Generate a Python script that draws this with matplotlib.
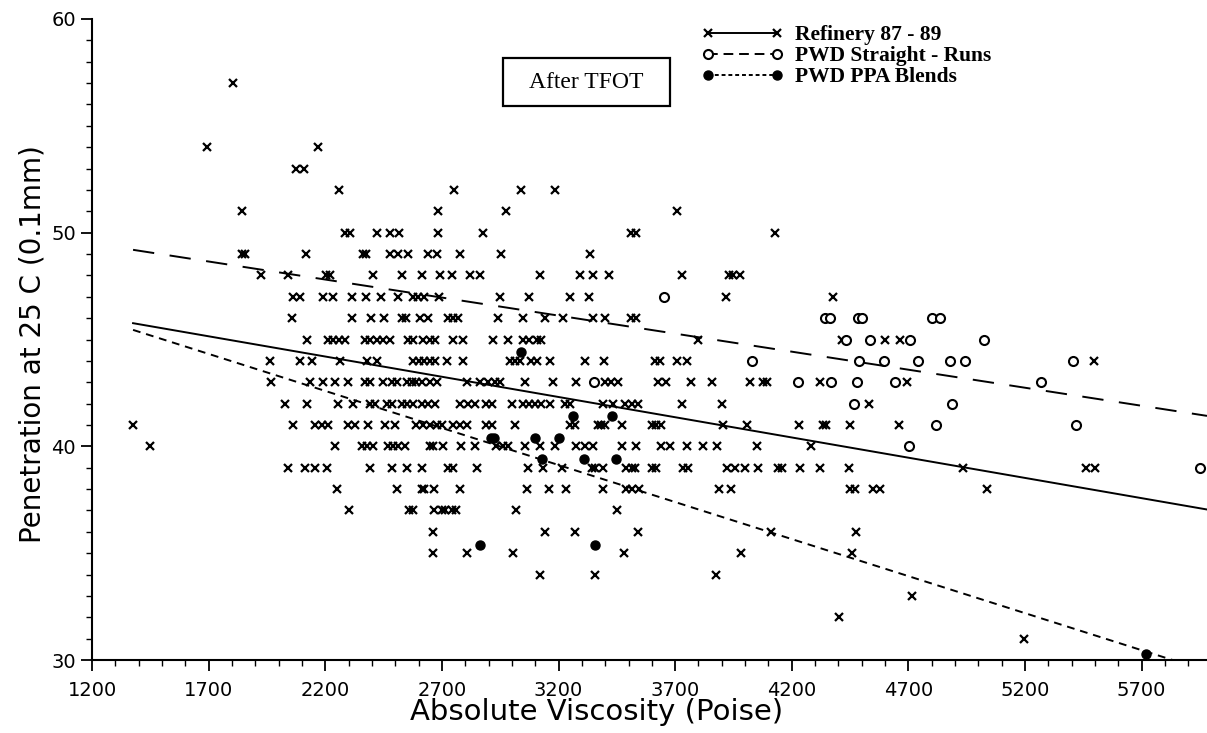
import numpy as np
import matplotlib.pyplot as plt
from matplotlib.lines import Line2D
from matplotlib.patches import Rectangle
from matplotlib.ticker import FixedLocator

# Refinery 87-89 samples: one viscosity list per penetration value
refinery_pen = [57, 54, 53, 52, 51, 50, 49, 48, 47, 46, 45, 44, 43, 42, 41, 40, 39, 38, 37, 36, 35, 34, 33, 32, 31]
refinery_visc = [
    [1805],
    [1694, 2170],
    [2074, 2110],
    [2257, 2751, 3041, 3187],
    [1844, 2684, 2974, 3709],
    [2284, 2306, 2420, 2477, 2516, 2684, 2877, 3510, 3530, 4130],
    [1845, 1855, 2116, 2360, 2374, 2477, 2513, 2553, 2641, 2677, 2777, 2953, 3334],
    [1924, 2041, 2205, 2220, 2403, 2531, 2615, 2691, 2742, 2820, 2863, 3120, 3291, 3348, 3417, 3730,
     3930, 3950, 3977],
    [2063, 2091, 2191, 2234, 2313, 2374, 2441, 2513, 2577, 2599, 2623, 2687, 2949, 3074, 3249, 3331,
     3916, 4377],
    [2056, 2313, 2394, 2451, 2527, 2548, 2606, 2641, 2727, 2749, 2770, 2941, 3049, 3141, 3220, 3348,
     3399, 3510, 3530],
    [2120, 2210, 2235, 2260, 2285, 2370, 2391, 2420, 2449, 2477, 2556, 2577, 2620, 2649, 2670, 2749,
     2789, 2920, 2982, 3049, 3074, 3106, 3127, 3796, 4417, 4599, 4663],
    [1963, 2091, 2141, 2263, 2377, 2420, 2577, 2600, 2625, 2650, 2670, 2720, 2789, 2991, 3013, 3034,
     3084, 3106, 3163, 3313, 3394, 3613, 3633, 3710, 3749, 5496],
    [1967, 2134, 2191, 2241, 2299, 2370, 2391, 2449, 2484, 2506, 2549, 2570, 2591, 2613, 2649, 2677,
     2806, 2863, 2899, 2927, 2949, 3056, 3177, 3274, 3399, 3427, 3456, 3627, 3660, 3766, 3856, 4020,
     4075, 4095, 4323, 4694],
    [2028, 2120, 2256, 2320, 2391, 2413, 2463, 2484, 2527, 2549, 2577, 2613, 2641, 2670, 2777, 2813,
     2841, 2891, 2913, 2999, 3049, 3074, 3099, 3127, 3163, 3227, 3249, 3391, 3434, 3484, 3513, 3541,
     3731, 3899, 4531],
    [1374, 2063, 2156, 2184, 2213, 2299, 2327, 2384, 2456, 2499, 2591, 2620, 2649, 2677, 2700, 2749,
     2777, 2806, 2891, 2913, 3013, 3249, 3270, 3369, 3380, 3400, 3470, 3599, 3620, 3641, 3906, 4009,
     4231, 4334, 4345, 4451, 4659],
    [1450, 2241, 2356, 2380, 2406, 2470, 2491, 2513, 2541, 2650, 2662, 2706, 2784, 2841, 2934, 2963,
     2984, 3056, 3120, 3184, 3277, 3313, 3348, 3470, 3531, 3639, 3680, 3751, 3820, 3881, 4049, 4284],
    [2041, 2113, 2156, 2206, 2391, 2484, 2549, 2613, 2727, 2749, 2849, 3070, 3134, 3217, 3345, 3355,
     3391, 3491, 3513, 3527, 3599, 3620, 3734, 3756, 3923, 3956, 3999, 4056, 4141, 4160, 4236, 4323,
     4444, 4934, 5460, 5500],
    [2251, 2506, 2615, 2625, 2666, 2777, 3065, 3160, 3234, 3391, 3491, 3513, 3546, 3887, 3941, 4449,
     4470, 4549, 4577, 5039],
    [2301, 2560, 2575, 2666, 2700, 2712, 2745, 2760, 3016, 3449],
    [2660, 3141, 3270, 3539, 4109, 4477],
    [2660, 2809, 3006, 3480, 3981, 4459],
    [3120, 3356, 3877],
    [4716],
    [4403],
    [5194],
]

# PWD straight-run binders
straight_visc = [3351, 3651, 4030, 4228, 4341, 4363, 4484, 4499, 4799, 4834, 4431, 4537, 4706, 5024,
                 4489, 4596, 4741, 4877, 4941, 4370, 4480, 4644, 4466, 4887, 4820, 4701,
                 5406, 5267, 5420, 5950]
straight_pen = [43, 47, 44, 43, 46, 46, 46, 46, 46, 46, 45, 45, 45, 45,
                44, 44, 44, 44, 44, 43, 43, 43, 42, 42, 41, 40,
                44, 43, 41, 39]

# PWD PPA blends
ppa_visc = [3041, 3260, 3431, 2910, 2925, 3099, 3203, 3130, 3309, 3446, 2863, 3356, 5720]
ppa_pen = [44.4, 41.4, 41.4, 40.4, 40.4, 40.4, 40.4, 39.4, 39.4, 39.4, 35.4, 35.4, 30.3]

# linear fits: penetration = intercept + slope * viscosity
fit_start = 1376
refinery_fit = (48.37, -0.001894)
straight_fit = (51.52, -0.001688)
ppa_fit = (50.22, -0.003467)

ref_x = np.concatenate([np.array(v, float) for v in refinery_visc])
ref_y = np.concatenate([np.full(len(v), p, float) for p, v in zip(refinery_pen, refinery_visc)])

W, H = 1207, 733
fig = plt.figure(figsize=(W / 100, H / 100), dpi=100)
ax = fig.add_axes([92 / W, 73 / H, 1115 / W, 641 / H])

xmax = 5980
ax.set_xlim(1200, xmax)
ax.set_ylim(30, 60)

mk = dict(color='black', linestyle='none')
ax.plot(ref_x, ref_y, marker='x', markersize=5.5, markeredgewidth=1.6, **mk)
ax.plot(straight_visc, straight_pen, marker='o', markersize=6.5, markerfacecolor='white',
        markeredgewidth=1.5, **mk)
ax.plot(ppa_visc, ppa_pen, marker='o', markersize=6.5, markerfacecolor='black', **mk)

fx = np.array([fit_start, xmax])
ax.plot(fx, refinery_fit[0] + refinery_fit[1] * fx, color='black', lw=1.4, ls='-')
ax.plot(fx, straight_fit[0] + straight_fit[1] * fx, color='black', lw=1.4, ls=(0, (11, 8)))
ax.plot(fx, ppa_fit[0] + ppa_fit[1] * fx, color='black', lw=1.4, ls=(0, (4, 3)))

for s in ('top', 'right'):
    ax.spines[s].set_visible(False)
for s in ('left', 'bottom'):
    ax.spines[s].set_linewidth(1.5)

ax.xaxis.set_major_locator(FixedLocator(np.arange(1200, 6000, 500)))
ax.xaxis.set_minor_locator(FixedLocator(np.arange(1200, xmax, 100)))
ax.yaxis.set_major_locator(FixedLocator([30, 40, 50, 60]))
ax.yaxis.set_minor_locator(FixedLocator(np.arange(30, 61, 1)))
ax.tick_params(which='major', direction='out', length=8, width=1.3, labelsize=14)
ax.tick_params(axis='x', which='major', pad=7)
ax.tick_params(which='minor', direction='out', length=4, width=1.0)

# axis titles
fig.text(597 / W, 1 - 712 / H, 'Absolute Viscosity (Poise)', ha='center', va='center', fontsize=21)
fig.text(33 / W, 1 - 344 / H, 'Penetration at 25 C (0.1mm)', ha='center', va='center',
         rotation=90, fontsize=20)

# boxed note
fig.patches.append(Rectangle((503 / W, 1 - 106 / H), 167 / W, 48 / H, transform=fig.transFigure,
                             facecolor='white', edgecolor='black', linewidth=1.6))
fig.text(586 / W, 1 - 82 / H, 'After TFOT', ha='center', va='center',
         fontsize=17, family='Liberation Serif')

handles = [
    Line2D([], [], color='black', ls='-', lw=1.4, marker='x', markersize=6, markeredgewidth=1.6),
    Line2D([], [], color='black', ls=(0, (5, 3)), lw=1.4, marker='o', markersize=6.5,
           markerfacecolor='white', markeredgewidth=1.5),
    Line2D([], [], color='black', ls=(0, (2, 1.5)), lw=1.4, marker='o', markersize=6.5,
           markerfacecolor='black'),
]
labels = ['Refinery 87 - 89', 'PWD Straight - Runs', 'PWD PPA Blends']
fig.legend(handles, labels, loc='upper left', bbox_to_anchor=(702 / W, 1 - 25 / H), frameon=False,
           numpoints=2, handlelength=3.8, handletextpad=0.5, labelspacing=0.05,
           borderpad=0, borderaxespad=0,
           prop=dict(family='Liberation Serif', weight='bold', size=15.5))

fig.savefig('out.png', dpi=100)
